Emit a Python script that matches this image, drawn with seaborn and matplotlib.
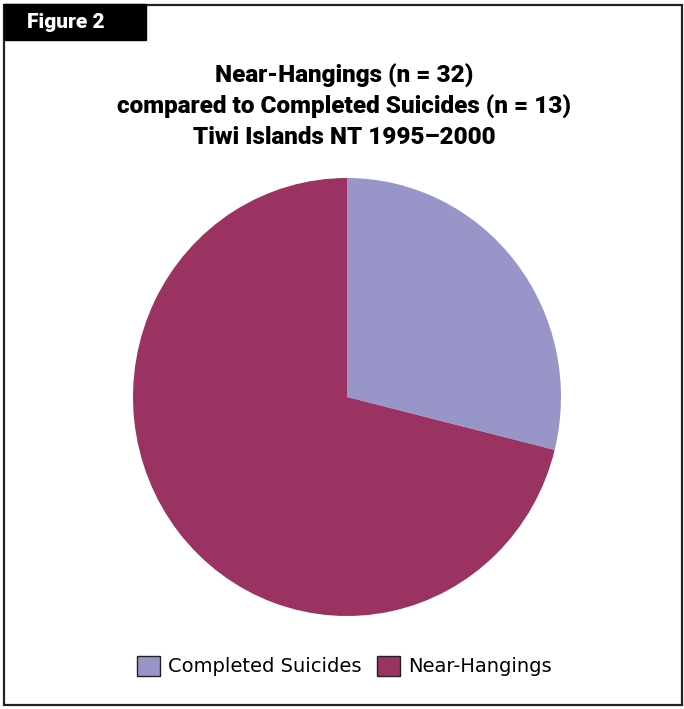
import matplotlib
matplotlib.use("Agg")
import matplotlib.pyplot as plt
import seaborn as sns
from matplotlib.patches import Rectangle, Patch

categories = ["Completed Suicides", "Near-Hangings"]
counts = [13, 32]
colors = ["#9896C9", "#9A3262"]
title_lines = ["Near-Hangings (n = 32)",
               "compared to Completed Suicides (n = 13)",
               "Tiwi Islands NT 1995\u20132000"]
fig_label = "Figure 2"

sns.set_theme(style="white", palette=sns.color_palette(colors))
plt.rcParams['font.family'] = ['DejaVu Sans']

W, H = 684, 709
fig = plt.figure(figsize=(W / 100, H / 100), dpi=100)

def fx(x):
    return x / W

def fy(y):
    return 1 - y / H

# outer frame
fig.patches.append(Rectangle((fx(4), fy(705)), fx(682) - fx(4), fy(5) - fy(705),
                             transform=fig.transFigure, fill=False,
                             edgecolor="#222222", linewidth=1.6))
# figure label box
fig.patches.append(Rectangle((fx(4), fy(40)), fx(146) - fx(4), fy(4) - fy(40),
                             transform=fig.transFigure, facecolor="black",
                             edgecolor="black"))
fig.text(fx(27), fy(23), fig_label, color="white", fontsize=15, fontweight="heavy",
         family="Roboto", ha="left", va="center")

for i, line in enumerate(title_lines):
    fig.text(fx(344), fy(76 + 31 * i), line, fontsize=17.5, fontweight="heavy",
             family="Roboto", ha="center", va="center", color="black")

cx, cy, rx, ry = 347, 397, 214, 219
ax = fig.add_axes([fx(cx - rx), fy(cy + ry), 2 * rx / W, 2 * ry / H])
ax.pie(counts, colors=colors, startangle=90, counterclock=False,
       wedgeprops=dict(linewidth=0))
ax.set_aspect("auto")
ax.set_xlim(-1, 1)
ax.set_ylim(-1, 1)
ax.axis("off")

handles = [Patch(facecolor=c, edgecolor="#222222", linewidth=1.0) for c in colors]
leg = fig.legend(handles, categories, loc="center", bbox_to_anchor=(fx(344), fy(666)),
                 ncol=2, frameon=False, fontsize=14, handlelength=1.2, handleheight=1.2,
                 handletextpad=0.4, columnspacing=0.8)
for t in leg.get_texts():
    t.set_color("black")

fig.savefig("out.png", dpi=100)
